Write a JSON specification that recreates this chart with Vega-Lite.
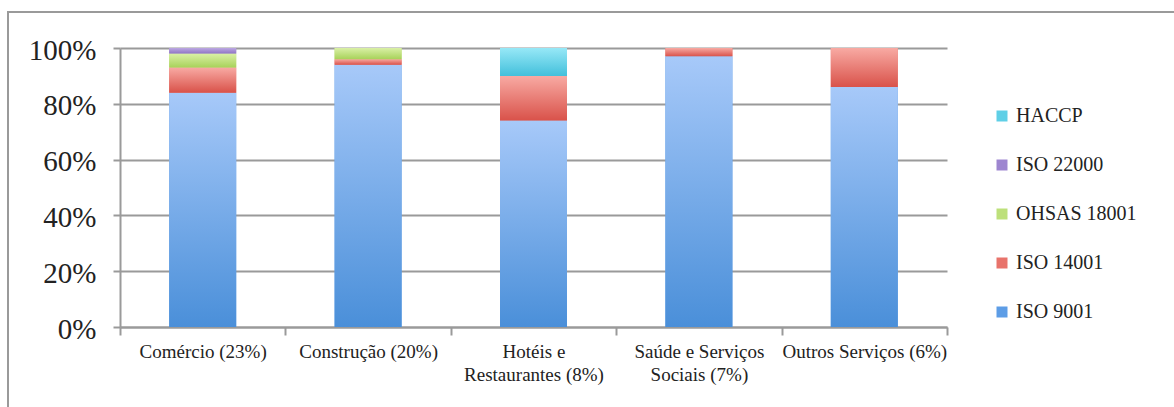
{
  "$schema": "https://vega.github.io/schema/vega-lite/v6.json",
  "autosize": "none",
  "width": 1176,
  "height": 405,
  "padding": {"left": 8, "top": 12, "right": -10, "bottom": -10},
  "background": "white",
  "config": {
    "view": {"stroke": "#9a9a9a", "strokeWidth": 2},
    "font": "Liberation Serif",
    "legend": {"labelFont": "Liberation Serif", "labelFontSize": 20, "labelColor": "#222222"},
    "axis": {"labelFont": "Liberation Serif"}
  },
  "data": {
    "values": [
      {"cat": "Comércio (23%)", "cert": "ISO 9001", "ord": 1, "value": 0.84},
      {"cat": "Comércio (23%)", "cert": "ISO 14001", "ord": 2, "value": 0.09},
      {"cat": "Comércio (23%)", "cert": "OHSAS 18001", "ord": 3, "value": 0.05},
      {"cat": "Comércio (23%)", "cert": "ISO 22000", "ord": 4, "value": 0.02},
      {"cat": "Construção (20%)", "cert": "ISO 9001", "ord": 1, "value": 0.94},
      {"cat": "Construção (20%)", "cert": "ISO 14001", "ord": 2, "value": 0.02},
      {"cat": "Construção (20%)", "cert": "OHSAS 18001", "ord": 3, "value": 0.04},
      {"cat": "Hotéis e Restaurantes (8%)", "cert": "ISO 9001", "ord": 1, "value": 0.74},
      {"cat": "Hotéis e Restaurantes (8%)", "cert": "ISO 14001", "ord": 2, "value": 0.16},
      {"cat": "Hotéis e Restaurantes (8%)", "cert": "HACCP", "ord": 5, "value": 0.10},
      {"cat": "Saúde e Serviços Sociais (7%)", "cert": "ISO 9001", "ord": 1, "value": 0.97},
      {"cat": "Saúde e Serviços Sociais (7%)", "cert": "ISO 14001", "ord": 2, "value": 0.03},
      {"cat": "Outros Serviços (6%)", "cert": "ISO 9001", "ord": 1, "value": 0.86},
      {"cat": "Outros Serviços (6%)", "cert": "ISO 14001", "ord": 2, "value": 0.14}
    ]
  },
  "transform": [
    {"stack": "value", "groupby": ["cat"], "sort": [{"field": "ord", "order": "ascending"}], "as": ["y0", "y1"]}
  ],
  "encoding": {
    "x": {
      "field": "cat", "type": "nominal", "sort": null,
      "scale": {"range": [112, 939], "paddingInner": 0, "paddingOuter": 0},
      "axis": {
        "title": null, "orient": "bottom", "offset": -90, "labelAngle": 0,
        "tickBand": "extent", "tickSize": 8, "tickColor": "#9a9a9a", "tickWidth": 2,
        "domainColor": "#9a9a9a", "domainWidth": 2, "grid": false,
        "labelFont": "Liberation Serif", "labelFontSize": 19, "labelColor": "#222222",
        "labelPadding": 7, "labelLineHeight": 23, "labelBaseline": "top",
        "labelExpr": "datum.label == 'Hotéis e Restaurantes (8%)' ? ['Hotéis e', 'Restaurantes (8%)'] : datum.label == 'Saúde e Serviços Sociais (7%)' ? ['Saúde e Serviços', 'Sociais (7%)'] : datum.label"
      }
    },
    "y": {
      "field": "y1", "type": "quantitative",
      "scale": {"domain": [0, 1], "range": [315, 36], "nice": false},
      "axis": {
        "title": null, "orient": "left", "offset": -112, "values": [0, 0.2, 0.4, 0.6, 0.8, 1], "format": ".0%",
        "tickSize": 7, "tickColor": "#9a9a9a", "tickWidth": 2,
        "domainColor": "#9a9a9a", "domainWidth": 2,
        "grid": true, "gridColor": "#9a9a9a", "gridWidth": 2,
        "labelFont": "Liberation Serif", "labelFontSize": 29, "labelColor": "#222222", "labelPadding": 17, "labelBaseline": "middle", "labelOffset": 2
      }
    },
    "y2": {"field": "y0"}
  },
  "layer": [
    {
      "mark": {"type": "bar", "width": {"band": 0.405}},
      "encoding": {
        "color": {
          "field": "cert", "type": "nominal",
          "scale": {
            "domain": ["HACCP", "ISO 22000", "OHSAS 18001", "ISO 14001", "ISO 9001"],
            "range": ["#5fcfe6", "#9e86d0", "#bde07a", "#e8736b", "#5d9de6"]
          },
          "legend": {
            "title": null, "orient": "none", "legendX": 984, "legendY": 94,
            "symbolType": "square", "symbolSize": 121, "symbolStrokeWidth": 0,
            "labelFont": "Liberation Serif", "labelFontSize": 20, "labelColor": "#222222",
            "labelOffset": 4, "rowPadding": 29, "padding": 0
          }
        }
      }
    },
    {
      "transform": [{"filter": "datum.cert === 'ISO 9001'"}],
      "mark": {"type": "bar", "width": {"band": 0.405},
        "color": {"gradient": "linear", "x1": 0, "y1": 0, "x2": 0, "y2": 1,
          "stops": [{"offset": 0, "color": "#a7c9f9"}, {"offset": 1, "color": "#4a8fd9"}]}}
    },
    {
      "transform": [{"filter": "datum.cert === 'ISO 14001'"}],
      "mark": {"type": "bar", "width": {"band": 0.405},
        "color": {"gradient": "linear", "x1": 0, "y1": 0, "x2": 0, "y2": 1,
          "stops": [{"offset": 0, "color": "#f8aaa3"}, {"offset": 1, "color": "#d9524a"}]}}
    },
    {
      "transform": [{"filter": "datum.cert === 'OHSAS 18001'"}],
      "mark": {"type": "bar", "width": {"band": 0.405},
        "color": {"gradient": "linear", "x1": 0, "y1": 0, "x2": 0, "y2": 1,
          "stops": [{"offset": 0, "color": "#daf0a6"}, {"offset": 1, "color": "#a8d25a"}]}}
    },
    {
      "transform": [{"filter": "datum.cert === 'ISO 22000'"}],
      "mark": {"type": "bar", "width": {"band": 0.405},
        "color": {"gradient": "linear", "x1": 0, "y1": 0, "x2": 0, "y2": 1,
          "stops": [{"offset": 0, "color": "#bca8e2"}, {"offset": 1, "color": "#8f74c4"}]}}
    },
    {
      "transform": [{"filter": "datum.cert === 'HACCP'"}],
      "mark": {"type": "bar", "width": {"band": 0.405},
        "color": {"gradient": "linear", "x1": 0, "y1": 0, "x2": 0, "y2": 1,
          "stops": [{"offset": 0, "color": "#97e8f7"}, {"offset": 1, "color": "#43c0db"}]}}
    }
  ]
}
